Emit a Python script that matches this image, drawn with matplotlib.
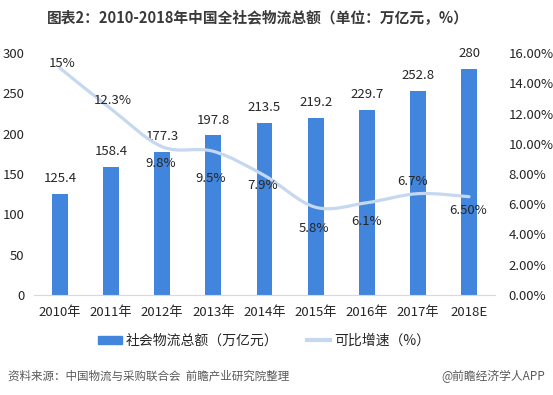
import numpy as np
import matplotlib.pyplot as plt
from matplotlib.path import Path
from matplotlib.patches import PathPatch
from matplotlib.ticker import FuncFormatter

plt.rcParams['font.family'] = ['Noto Sans CJK SC', 'DejaVu Sans']

# data
years = ["2010年", "2011年", "2012年", "2013年", "2014年", "2015年", "2016年", "2017年", "2018E"]
total = [125.4, 158.4, 177.3, 197.8, 213.5, 219.2, 229.7, 252.8, 280]
growth = [15, 12.3, 9.8, 9.5, 7.9, 5.8, 6.1, 6.7, 6.5]
growth_labels = ["15%", "12.3%", "9.8%", "9.5%", "7.9%", "5.8%", "6.1%", "6.7%", "6.50%"]
# label offsets (pixels) for the growth labels
growth_off = [(2, 5), (2, 8), (-2, -17), (-3, -27), (-2, -10), (-2, -21), (0, -19), (-5, 12), (-1, -14)]

bar_color = "#4285DC"
line_color = "#C5D8F0"
text_color = "#262626"

fig = plt.figure(figsize=(5.53, 3.95), dpi=100)
ax = fig.add_axes([0.0622, 0.2532, 0.8322, 0.6126])
ax2 = ax.twinx()

x = np.arange(len(years))
ax.bar(x, total, width=0.31, color=bar_color, zorder=2)
ax.set_xlim(-0.5, len(years) - 0.5)
ax.set_ylim(0, 300)
ax.set_yticks(range(0, 301, 50))
ax.set_xticks(x)
ax.set_xticklabels(years)
ax.tick_params(axis='both', length=0, labelsize=9.5, colors=text_color)
ax.tick_params(axis='y', pad=7)
ax.tick_params(axis='x', pad=8)
for s in ["top", "right", "left"]:
    ax.spines[s].set_visible(False)
ax.spines["bottom"].set_color("#D9D9D9")

for xi, v in zip(x, total):
    ax.annotate(f"{v:g}", (xi, v), xytext=(0, 11), textcoords="offset points",
                ha="center", va="center", fontsize=9.5, color=text_color)

# smoothed growth line (catmull-rom -> bezier)
pts = np.column_stack([x, growth]).astype(float)
verts = [pts[0]]
codes = [Path.MOVETO]
n = len(pts)
for i in range(n - 1):
    p0 = pts[i - 1] if i > 0 else pts[i]
    p1 = pts[i]
    p2 = pts[i + 1]
    p3 = pts[i + 2] if i + 2 < n else pts[i + 1]
    c1 = p1 + (p2 - p0) / 6
    c2 = p2 - (p3 - p1) / 6
    verts += [c1, c2, p2]
    codes += [Path.CURVE4] * 3
ax2.add_patch(PathPatch(Path(verts, codes), facecolor="none", edgecolor=line_color,
                        lw=2.3, capstyle="round", zorder=3))
ax2.set_ylim(0, 16)
ax2.set_yticks(range(0, 17, 2))
ax2.yaxis.set_major_formatter(FuncFormatter(lambda v, p: f"{v:.2f}%"))
ax2.tick_params(axis='y', length=0, labelsize=9.5, colors=text_color, pad=10)
for s in ["top", "right", "left", "bottom"]:
    ax2.spines[s].set_visible(False)

for xi, v, lab, (dx, dy) in zip(x, growth, growth_labels, growth_off):
    ax2.annotate(lab, (xi, v), xytext=(dx * 0.72, dy * 0.72), textcoords="offset points",
                 ha="center", va="center", fontsize=9.5, color=text_color, zorder=4)

# legend
h1 = plt.Rectangle((0, 0), 1, 1, color=bar_color)
h2 = plt.Line2D([0], [0], color=line_color, lw=3)
fig.legend([h1, h2], ["社会物流总额（万亿元）", "可比增速（%）"], loc="center",
           bbox_to_anchor=(0.478, 0.137), ncol=2, frameon=False, fontsize=10,
           handlelength=1.7, handleheight=0.6, columnspacing=2.0, handletextpad=0.3,
           labelcolor=text_color)

fig.text(0.467, 0.955, "图表2：2010-2018年中国全社会物流总额（单位：万亿元，%）", ha="center", va="center",
         fontsize=10.6, fontweight="bold", color="#3A3A3A")
fig.text(0.014, 0.048, "资料来源：中国物流与采购联合会  前瞻产业研究院整理", ha="left", va="center",
         fontsize=8.3, style="italic", color="#595959")
fig.text(0.986, 0.048, "@前瞻经济学人APP", ha="right", va="center",
         fontsize=8.5, color="#595959")

fig.savefig("out.png", dpi=100)
